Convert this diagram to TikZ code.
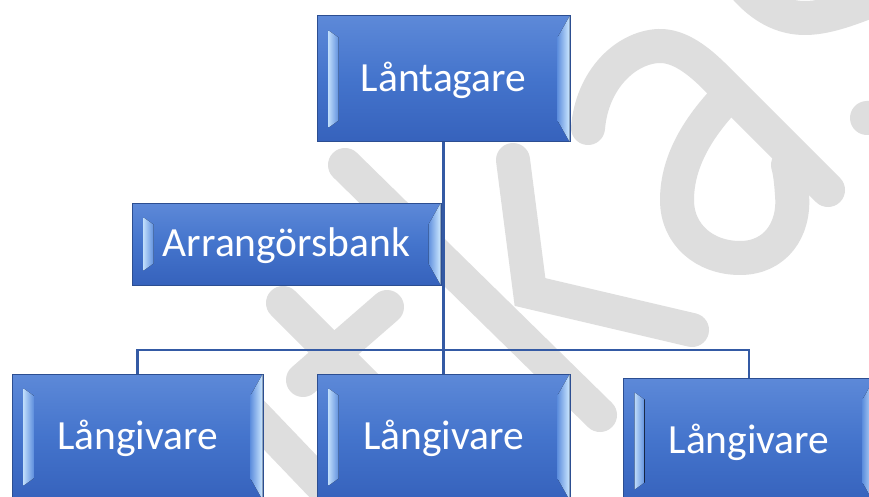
\documentclass[tikz,border=0pt]{standalone}
\usepackage{fontspec}
\setmainfont{Carlito}
\usetikzlibrary{calc}
\definecolor{wmgray}{RGB}{222,222,222}
\definecolor{boxtop}{RGB}{93,137,216}
\definecolor{boxmid}{RGB}{68,116,204}
\definecolor{boxbot}{RGB}{54,98,188}
\definecolor{boxborder}{RGB}{44,78,145}
\definecolor{connblue}{RGB}{52,90,164}
\definecolor{hilite}{RGB}{205,232,255}
\definecolor{hiblue}{RGB}{96,144,222}
\tikzset{
  orgbox/.style={draw=boxborder, line width=1pt, top color=boxtop, bottom color=boxbot,
    middle color=boxmid, inner sep=0pt, text=white,
    font=\fontsize{41.5pt}{49pt}\selectfont, text height=28pt, text depth=3pt},
  lstrip/.style={left color=hilite!85!hiblue, right color=hiblue},
  rstrip/.style={left color=hiblue, right color=hilite},
  conn/.style={draw=connblue, line width=2.4pt},
  wm/.style={draw=wmgray, line width=34pt, line cap=round, line join=round}
}
\newcommand{\bevelstrips}[1]{%
  \fill[lstrip] ($(#1.north west)+(12,15)$) -- ($(#1.north west)+(22,22)$) --
    ($(#1.south west)+(22,-22)$) -- ($(#1.south west)+(12,-15)$) -- cycle;
  \fill[rstrip] ($(#1.north east)+(-1,1)$) -- ($(#1.north east)+(-13,22)$) --
    ($(#1.south east)+(-13,-22)$) -- ($(#1.south east)+(-1,-1)$) -- cycle;}
\begin{document}
\begin{tikzpicture}[x=1pt, y=-1pt]
\clip (0,0) rectangle (869,497);
\fill[white] (0,0) rectangle (869,497);
% watermark
\draw[wm] (345,165) -- (600,415);
\draw[wm, line join=miter] (513,160) -- (530,292) -- (692,330);
\draw[wm] (283,303) -- (420,440);
\draw[wm] (387,307) -- (303,380);
\draw[wm] (240,400) -- (350,515);
\draw[wm] (588,128) .. controls (592,80) and (625,48) .. (658,46)
  .. controls (680,45) and (700,62) .. (716,78) -- (828,190);
\draw[wm] (728,96) .. controls (700,125) and (677,160) .. (677,200)
  .. controls (677,235) and (705,258) .. (740,258)
  .. controls (775,258) and (795,230) .. (792,195)
  .. controls (791,180) and (790,172) .. (788,165);
\draw[wm] (735,-25) .. controls (760,10) and (785,18) .. (805,18)
  .. controls (830,18) and (860,5) .. (885,-5);
\draw[wm] (867,118) .. controls (880,116) and (895,122) .. (905,132);
% nodes
\node[orgbox, minimum width=253pt, minimum height=126pt] (lant) at (443.5,79) {Låntagare};
\node[orgbox, minimum width=309pt, minimum height=82pt] (arr) at (286.5,244) {Arrangörsbank};
\node[orgbox, minimum width=251pt, minimum height=126pt] (l1) at (137.5,437) {Långivare};
\node[orgbox, minimum width=253pt, minimum height=126pt] (l2) at (443.5,437) {Långivare};
\node[orgbox, minimum width=252pt, minimum height=126pt] (l3) at (749,441) {Långivare};
\foreach \n in {lant,arr,l1,l2,l3} {\bevelstrips{\n}}
% connectors
\coordinate (bus) at (443.5,350);
\draw[conn] (lant.south) -- (l2.north);
\draw[conn] (arr.east) -- (arr.east -| lant.south);
\draw[conn] (l1.north) -- (l1.north |- bus) -- (l3.north |- bus) -- (l3.north);
\end{tikzpicture}
\end{document}
